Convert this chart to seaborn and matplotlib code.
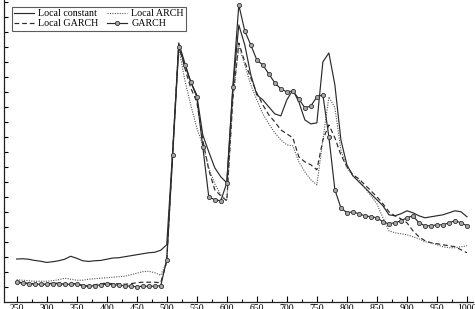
import numpy as np
import pandas as pd
import matplotlib
matplotlib.use("Agg")
import matplotlib.pyplot as plt
import seaborn as sns

x = list(range(250, 1001, 10))

local_constant = [42.7, 43, 42.5, 41.3, 40.5, 39.3, 40, 41, 42.5, 45.5,
                  43.5, 41, 40.3, 41, 41.3, 42.5, 43.7, 44, 45, 46,
                  47, 48, 49, 49.5, 51.5, 57, 152, 259, 239, 220,
                  207, 167, 150, 134, 125, 119, 212, 277, 257, 227,
                  207, 202, 195, 188, 186, 202, 212, 200, 182, 178,
                  179, 240, 249, 217, 162, 137, 126, 120, 114, 108,
                  102, 96, 87, 86, 88, 91, 89, 86, 84, 85,
                  86, 87, 89, 91, 90, 85]

local_garch = [20, 19, 18.5, 18, 18, 18, 18.5, 18.5, 18, 18,
               18, 16.5, 16, 17, 18, 18.5, 18, 18, 17.5, 18,
               19, 19.5, 19.5, 19.5, 19, 40, 152, 257, 234, 214,
               200, 162, 132, 112, 106, 101, 202, 259, 240, 224,
               209, 197, 187, 180, 172, 168, 164, 145, 140, 137,
               132, 162, 177, 164, 147, 135, 127, 123, 117, 111,
               105, 98, 90, 86, 83, 79, 71, 65, 61, 59,
               58, 57, 56, 55, 52, 49]

local_arch = [22, 21.5, 21, 20.5, 20.5, 20.5, 21, 22, 23.5, 22.5,
              21.5, 21.5, 22.5, 23, 23.5, 24, 24.5, 25, 25.5, 27,
              28.5, 30, 30.5, 29, 26.5, 40, 152, 254, 222, 197,
              174, 157, 134, 118, 107, 101, 202, 256, 237, 217,
              202, 188, 178, 169, 162, 157, 156, 140, 130, 122,
              117, 162, 205, 194, 152, 134, 126, 122, 114, 106,
              98, 84, 71, 69, 68, 67, 65, 63, 60, 59,
              57, 55, 54, 54, 55, 56]

garch = [19.3, 18.5, 18, 17.5, 17.5, 17.5, 18, 18, 17.5, 17.5,
         18, 15.5, 15.5, 16, 17, 17.5, 17, 16.5, 16, 15.5,
         15, 15.5, 15.5, 15.5, 16, 42, 147, 255, 237, 220,
         205, 155, 105, 102, 101, 119, 215, 297, 271, 257,
         242, 237, 228, 219, 213, 210, 211, 203, 194, 196,
         205, 207, 165, 112, 94, 89, 90, 88, 86, 85,
         84, 80, 78, 79, 81, 84, 86, 79, 76, 76,
         77, 77, 79, 81, 79, 76]

x_ticks = list(range(250, 1001, 50))

plt.rcParams['font.family'] = ['Liberation Serif', 'DejaVu Serif']

fig = plt.figure(figsize=(4.75, 3.09), dpi=100)
ax = fig.add_axes([4 / 475, 7.3 / 309, 469 / 475, 301.7 / 309])

sns.lineplot(x=x, y=local_constant, ax=ax, color='#2a2a2a', lw=0.85,
             linestyle='-', label='Local constant')
sns.lineplot(x=x, y=local_garch, ax=ax, color='#2a2a2a', lw=0.85,
             linestyle=(0, (4, 2.5)), label='Local GARCH')
sns.lineplot(x=x, y=local_arch, ax=ax, color='#555555', lw=0.8,
             linestyle=(0, (1, 1.2)), label='Local ARCH')
sns.lineplot(x=x, y=garch, ax=ax, color='#2a2a2a', lw=0.85,
             linestyle='-', marker='o', markersize=3.0,
             markerfacecolor='#a8a8a8', markeredgecolor='#333333',
             markeredgewidth=0.6, label='GARCH')

ax.set_xlim(229, 1010)
ax.set_ylim(0, 302)
ax.set_xticks(x_ticks)
ax.set_xticks(list(range(275, 1000, 50)), minor=True)
ax.set_xticklabels([str(t) for t in x_ticks], fontsize=7)
ax.set_yticks(list(range(15, 301, 15)))
ax.set_yticklabels([])
ax.tick_params(axis='x', which='major', direction='in', length=4, width=0.8, pad=2)
ax.tick_params(axis='x', which='minor', direction='in', length=2, width=0.8)
ax.tick_params(axis='y', which='major', direction='in', length=3, width=0.8)
for s in ['top', 'right']:
    ax.spines[s].set_visible(False)
for s in ['left', 'bottom']:
    ax.spines[s].set_linewidth(0.9)
    ax.spines[s].set_color('#222222')
ax.set_xlabel('')
ax.set_ylabel('')

handles, labels = ax.get_legend_handles_labels()
leg = ax.legend(handles, labels,
                ncol=2, loc='upper left', bbox_to_anchor=(0.016, 0.978),
                borderaxespad=0, fontsize=7.2, frameon=True, fancybox=False,
                edgecolor='#333333', handlelength=2.0, columnspacing=0.9,
                handletextpad=0.4, labelspacing=0.1, borderpad=0.25)
leg.get_frame().set_linewidth(0.8)

fig.savefig('out.png', dpi=100)
